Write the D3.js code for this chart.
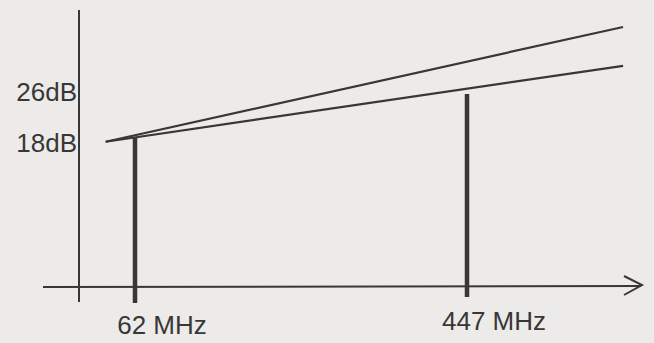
<!DOCTYPE html>
<html>
<head>
<meta charset="utf-8">
<script src="https://d3js.org/d3.v7.min.js"></script>
<style>
  body { margin: 0; background: #ecebe9; }
  svg { display: block; }
</style>
</head>
<body>
<svg></svg>
<script>
// schematic: antenna gain vs frequency
const width = 654;
const height = 343;

// data
const freqs = [62, 447];                       // MHz, the two marked channels
const freqLabels = ["62 MHz", "447 MHz"];
const barGain = [18.9, 25.7];                  // dB at each marked frequency
const gainTicks = [18, 26];
const gainLabels = ["18dB", "26dB"];
const lineFreq = [28, 628];                    // start / end of the gain lines
const upperGain = [18.2, 36.2];
const lowerGain = [18.2, 30.1];

const ink = "#383736";

const svg = d3.select("svg")
  .attr("width", width)
  .attr("height", height);

const x = d3.scaleLinear().domain([62, 447]).range([135, 467]);
const y = d3.scaleLinear().domain([18, 26]).range([143, 92]);

const axisY = 287;   // baseline of the frequency axis
const axisX = 79;    // position of the gain axis

// axes
svg.append("line")
  .attr("x1", axisX).attr("x2", axisX)
  .attr("y1", 10).attr("y2", 302)
  .attr("stroke", ink).attr("stroke-width", 2);

svg.append("line")
  .attr("x1", 43).attr("x2", 641)
  .attr("y1", axisY).attr("y2", axisY - 1)
  .attr("stroke", ink).attr("stroke-width", 2);

svg.append("path")
  .attr("d", `M${624},${axisY - 11} L${642},${axisY - 2} L${624},${axisY + 8}`)
  .attr("fill", "none")
  .attr("stroke", ink).attr("stroke-width", 2);

// gain bars
svg.selectAll(".bar")
  .data(freqs)
  .enter().append("line")
  .attr("class", "bar")
  .attr("x1", d => x(d)).attr("x2", d => x(d))
  .attr("y1", (d, i) => y(barGain[i]))
  .attr("y2", (d, i) => i == 0 ? 303 : 297)
  .attr("stroke", ink)
  .attr("stroke-width", 4.5);

// gain lines
const line = d3.line()
  .x(d => x(d[0]))
  .y(d => y(d[1]));

[upperGain, lowerGain].forEach(g => {
  svg.append("path")
    .datum(lineFreq.map((f, i) => [f, g[i]]))
    .attr("d", line)
    .attr("fill", "none")
    .attr("stroke", ink)
    .attr("stroke-width", 2.2);
});

// labels
svg.selectAll(".glabel")
  .data(gainTicks)
  .enter().append("text")
  .attr("class", "glabel")
  .attr("x", 77)
  .attr("y", d => y(d) + 9)
  .attr("text-anchor", "end")
  .attr("font-family", "Liberation Sans")
  .attr("font-size", 26)
  .attr("fill", ink)
  .text((d, i) => gainLabels[i]);

svg.selectAll(".flabel")
  .data(freqs)
  .enter().append("text")
  .attr("class", "flabel")
  .attr("x", d => x(d) + 27)
  .attr("y", (d, i) => i == 0 ? 334 : 330)
  .attr("text-anchor", "middle")
  .attr("font-family", "Liberation Sans")
  .attr("font-size", 26)
  .attr("fill", ink)
  .text((d, i) => freqLabels[i]);
</script>
</body>
</html>
